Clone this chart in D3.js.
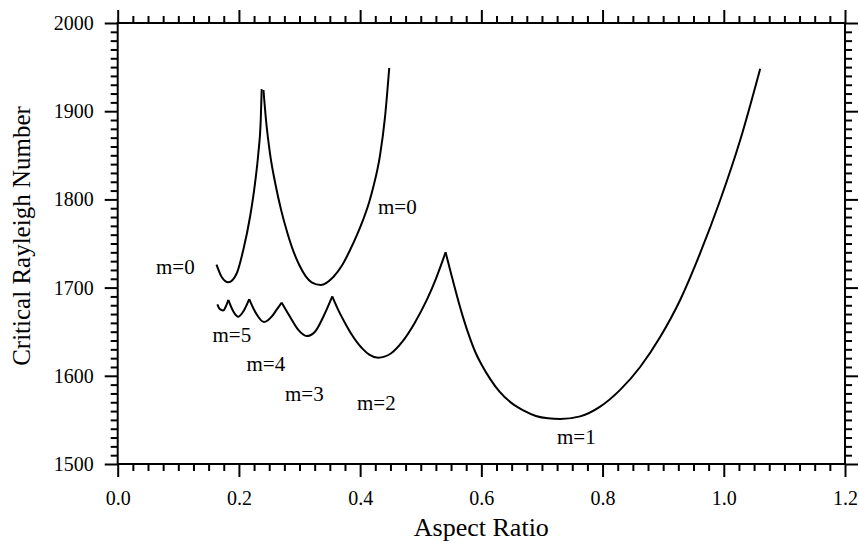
<!DOCTYPE html>
<html>
<head>
<meta charset="utf-8">
<script src="https://cdn.jsdelivr.net/npm/d3@7"></script>
<style>
  body { margin: 0; background: #fff; }
  svg text { font-family: "Liberation Serif", "Times New Roman", serif; fill: #000; }
</style>
</head>
<body>
<svg id="chart"></svg>
<script>
// upper curve (m=0), two branches meeting at the cusp
const upperLeft = [[0.163, 1726], [0.1716, 1712], [0.1825, 1706], [0.1963, 1716], [0.2073, 1743],
  [0.2183, 1780], [0.2265, 1818], [0.232, 1852], [0.236, 1890], [0.2376, 1925]];
const upperRight = [[0.2405, 1924], [0.2447, 1890], [0.2513, 1852], [0.26, 1818], [0.27, 1787],
  [0.28, 1762], [0.29, 1741], [0.30, 1725], [0.31, 1713], [0.32, 1706], [0.335, 1703],
  [0.3557, 1712], [0.37, 1725], [0.383, 1742], [0.395, 1760], [0.405, 1777], [0.415, 1797],
  [0.4217, 1814], [0.4328, 1850], [0.441, 1893], [0.448, 1949]];

// lower curve, one branch per azimuthal mode
const mode6 = [[0.1644, 1681], [0.168, 1676], [0.174, 1674], [0.178, 1678], [0.1825, 1686]];
const mode5 = [[0.1825, 1686], [0.1908, 1673], [0.199, 1667], [0.2073, 1673], [0.217, 1687]];
const mode4 = [[0.217, 1687], [0.2265, 1673], [0.2414, 1661], [0.254, 1667], [0.2623, 1675], [0.2706, 1683]];
const mode3 = [[0.2706, 1683], [0.2843, 1667], [0.298, 1652], [0.3118, 1645], [0.3255, 1650],
  [0.3393, 1667], [0.354, 1690]];
const mode2 = [[0.354, 1690], [0.365, 1673], [0.375, 1660], [0.385, 1648], [0.395, 1638],
  [0.405, 1630], [0.415, 1624], [0.43, 1620.5], [0.45, 1625], [0.47, 1639], [0.49, 1660],
  [0.51, 1686], [0.525, 1710], [0.541, 1740]];
const mode1 = [[0.541, 1740], [0.55, 1716], [0.56, 1690], [0.57, 1666], [0.58, 1645], [0.59, 1627],
  [0.60, 1613], [0.615, 1596], [0.63, 1582], [0.65, 1569], [0.67, 1560.5], [0.69, 1554.5], [0.71, 1551.8],
  [0.73, 1551], [0.763, 1554], [0.796, 1565], [0.829, 1584], [0.862, 1610], [0.895, 1644],
  [0.928, 1686], [0.961, 1739], [0.994, 1799], [1.027, 1867], [1.06, 1948]];

// curve labels (text, x, y in data units)
const labelText = ["m=0", "m=0", "m=5", "m=4", "m=3", "m=2", "m=1"];
const labelX = [0.0632, 0.4295, 0.1564, 0.2125, 0.276, 0.3948, 0.7248];
const labelY = [1715, 1784, 1638, 1606, 1571, 1561, 1523];

const xTicks = [0, 0.2, 0.4, 0.6, 0.8, 1.0, 1.2];
const yTicks = [1500, 1600, 1700, 1800, 1900, 2000];

const width = 859, height = 543;
const margin = { top: 23, right: 14, bottom: 79, left: 117.7 };

const svg = d3.select("#chart").attr("width", width).attr("height", height);
svg.append("rect").attr("width", width).attr("height", height).attr("fill", "#fff");

const x = d3.scaleLinear().domain([0, 1.2]).range([margin.left, width - margin.right]);
const y = d3.scaleLinear().domain([1500, 2000]).range([height - margin.bottom, margin.top]);

// minor ticks every 0.025 and 10
const xMinor = d3.range(0, 1.2001, 0.025).filter((v) => Math.abs(v * 5 - Math.round(v * 5)) > 1e-6);
const yMinor = d3.range(1500, 2001, 10).filter((v) => v % 100 !== 0);

function styleAxis(g) {
  g.select(".domain").remove();
  g.selectAll("line").attr("stroke", "#000").attr("stroke-width", 2);
}

const fmtX = d3.format(".1f");

// bottom
svg.append("g").attr("transform", `translate(0,${y(1500)})`)
  .call(d3.axisBottom(x).tickValues(xMinor).tickSize(7).tickFormat("")).call(styleAxis);
svg.append("g").attr("transform", `translate(0,${y(1500)})`)
  .call(d3.axisBottom(x).tickValues(xTicks).tickSize(13).tickPadding(14).tickFormat(fmtX))
  .call(styleAxis)
  .selectAll("text").attr("font-size", 20).attr("fill", "#000")
  .style("font-family", '"Liberation Serif", serif');
// top
svg.append("g").attr("transform", `translate(0,${y(2000)})`)
  .call(d3.axisTop(x).tickValues(xMinor).tickSize(7).tickFormat("")).call(styleAxis);
svg.append("g").attr("transform", `translate(0,${y(2000)})`)
  .call(d3.axisTop(x).tickValues(xTicks).tickSize(13).tickFormat("")).call(styleAxis);
// left
svg.append("g").attr("transform", `translate(${x(0)},0)`)
  .call(d3.axisLeft(y).tickValues(yMinor).tickSize(7).tickFormat("")).call(styleAxis);
svg.append("g").attr("transform", `translate(${x(0)},0)`)
  .call(d3.axisLeft(y).tickValues(yTicks).tickSize(13).tickPadding(11).tickFormat(d3.format("d")))
  .call(styleAxis)
  .selectAll("text").attr("font-size", 20).attr("fill", "#000")
  .style("font-family", '"Liberation Serif", serif');
// right
svg.append("g").attr("transform", `translate(${x(1.2)},0)`)
  .call(d3.axisRight(y).tickValues(yMinor).tickSize(7).tickFormat("")).call(styleAxis);
svg.append("g").attr("transform", `translate(${x(1.2)},0)`)
  .call(d3.axisRight(y).tickValues(yTicks).tickSize(13).tickFormat("")).call(styleAxis);

// frame
svg.append("rect")
  .attr("x", x(0)).attr("y", y(2000))
  .attr("width", x(1.2) - x(0)).attr("height", y(1500) - y(2000))
  .attr("fill", "none").attr("stroke", "#000").attr("stroke-width", 2);

// curves
const line = d3.line().x((d) => x(d[0])).y((d) => y(d[1])).curve(d3.curveMonotoneX);
[upperLeft, upperRight, mode6, mode5, mode4, mode3, mode2, mode1].forEach((branch) => {
  svg.append("path")
    .attr("d", line(branch))
    .attr("fill", "none")
    .attr("stroke", "#000")
    .attr("stroke-width", 2)
    .attr("stroke-linejoin", "round");
});

// labels
svg.selectAll(".mlabel")
  .data(labelText)
  .enter()
  .append("text")
  .attr("class", "mlabel")
  .attr("x", (d, i) => x(labelX[i]))
  .attr("y", (d, i) => y(labelY[i]))
  .attr("font-size", 21)
  .text((d) => d);

// axis titles
svg.append("text")
  .attr("x", (x(0) + x(1.2)) / 2).attr("y", 536)
  .attr("text-anchor", "middle").attr("font-size", 26)
  .text("Aspect Ratio");
svg.append("text")
  .attr("transform", "translate(30,236) rotate(-90)")
  .attr("text-anchor", "middle").attr("font-size", 25)
  .text("Critical Rayleigh Number");
</script>
</body>
</html>
